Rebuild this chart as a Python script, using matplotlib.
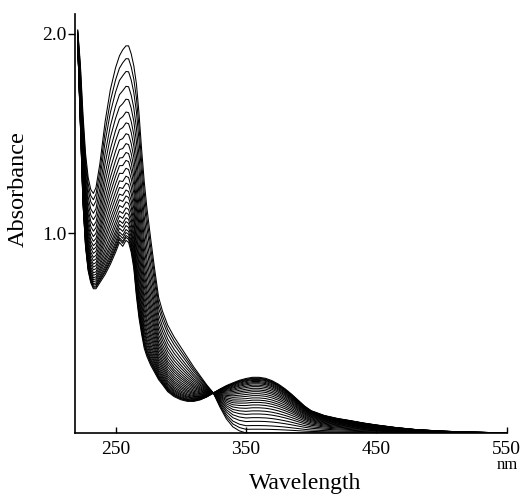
import numpy as np
import matplotlib
matplotlib.use("Agg")
import matplotlib.pyplot as plt

# wavelength grid (nm)
wavelength = [221, 223, 225, 227, 229, 231, 233, 235, 238, 242, 246, 250, 253, 255.5,
              258, 260, 262, 264, 266, 268, 270, 272, 274, 277, 280, 283, 286, 290,
              295, 300, 305, 310, 315, 320, 325, 330, 335, 340, 345, 350, 355, 360,
              365, 370, 375, 380, 385, 390, 395, 400, 410, 420, 430, 440, 450, 465,
              480, 500, 520, 550]

# first spectrum (tallest 260 nm band)
abs_start = [2.02, 1.85, 1.60, 1.40, 1.28, 1.22, 1.20, 1.23, 1.35, 1.56, 1.72, 1.83, 1.89, 1.92,
             1.94, 1.94, 1.90, 1.84, 1.75, 1.60, 1.42, 1.26, 1.13, 0.97, 0.82, 0.68, 0.61, 0.54,
             0.48, 0.43, 0.38, 0.33, 0.285, 0.24, 0.20, 0.13, 0.07, 0.03, 0.01, 0.0, 0.0, 0.0,
             0.0, 0.0, 0.0, 0.0, 0.0, 0.0, 0.0, 0.0, 0.0, 0.0, 0.0, 0.0, 0.0, 0.0,
             0.0, 0.0, 0.0, 0.0]

# last spectrum (band at ~360 nm)
abs_end = [1.95, 1.55, 1.15, 0.93, 0.81, 0.75, 0.72, 0.72, 0.75, 0.79, 0.84, 0.90, 0.95, 0.93,
           0.96, 0.95, 0.90, 0.82, 0.68, 0.57, 0.49, 0.42, 0.38, 0.335, 0.30, 0.265, 0.24, 0.205,
           0.18, 0.165, 0.157, 0.157, 0.165, 0.18, 0.20, 0.22, 0.238, 0.252, 0.265, 0.274, 0.28, 0.28,
           0.275, 0.263, 0.245, 0.222, 0.195, 0.165, 0.135, 0.112, 0.088, 0.073, 0.062, 0.05, 0.04, 0.027,
           0.017, 0.009, 0.004, 0.0]

# height of every recorded curve at the 260 nm maximum
peak_260 = [1.94, 1.875, 1.81, 1.735, 1.67, 1.605, 1.55, 1.495, 1.445, 1.40, 1.36, 1.32,
            1.28, 1.245, 1.21, 1.18, 1.15, 1.12, 1.095, 1.07, 1.05, 1.03, 1.01, 0.995,
            0.98, 0.97, 0.955]

wl = np.array(wavelength)
a0 = np.array(abs_start)
a1 = np.array(abs_end)
i260 = wavelength.index(260)

plt.rcParams['font.family'] = ['Liberation Serif', 'DejaVu Serif']

fig = plt.figure(figsize=(5.29, 4.97), dpi=100)
ax = fig.add_axes([0.142, 0.129, 0.816, 0.843])

for p in peak_260:
    f = (a0[i260] - p) / (a0[i260] - a1[i260])
    f = min(max(f, 0.0), 1.0)
    ax.plot(wl, (1 - f) * a0 + f * a1, color='black', lw=0.75)

ax.set_xlim(219, 550)
ax.set_ylim(0, 2.1)
ax.spines['top'].set_visible(False)
ax.spines['right'].set_visible(False)
ax.spines['left'].set_linewidth(1.2)
ax.spines['bottom'].set_linewidth(1.2)

ax.set_xticks([250, 350, 450, 550])
ax.set_xticklabels(['250', '350', '450', '550'])
ax.set_yticks([1.0, 2.0])
ax.set_yticklabels(['1.0', '2.0'])
ax.tick_params(axis='x', direction='in', length=4, width=1, pad=6, labelsize=14)
ax.tick_params(axis='y', direction='out', length=5, width=1, pad=1, labelsize=14)

# unit under the last tick label
fig.text(507 / 529, 1 - 469 / 497, 'nm', ha='center', va='baseline', fontsize=12)
fig.text(305 / 529, 1 - 484 / 497, 'Wavelength', ha='center', va='center', fontsize=17)
fig.text(18 / 529, 1 - 189 / 497, 'Absorbance', ha='center', va='center',
         rotation=90, fontsize=17.5)

fig.savefig('out.png', dpi=100)
